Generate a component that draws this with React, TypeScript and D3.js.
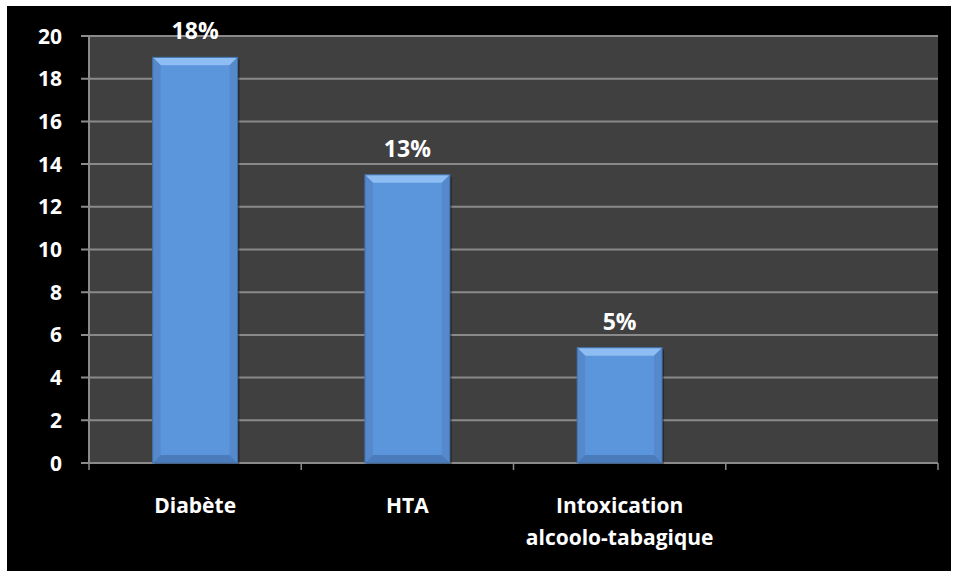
import React from "react";
import * as d3 from "d3";

const categories = ["Diabète", "HTA", "Intoxication\nalcoolo-tabagique", ""];
const values = [19, 13.5, 5.4, null];
const dataLabels = ["18%", "13%", "5%", ""];
const yTicks = [0, 2, 4, 6, 8, 10, 12, 14, 16, 18, 20];

const W = 955, H = 577;
const plot = { left: 89, right: 938, top: 36, bottom: 463 };
const FONT = "'Open Sans', sans-serif";

export default function App() {
  const x = d3.scaleBand<string>().domain(categories.map((c, i) => String(i))).range([plot.left, plot.right]).paddingInner(0.6).paddingOuter(0.3);
  const xSlot = d3.scaleBand<string>().domain(categories.map((c, i) => String(i))).range([plot.left, plot.right]);
  const y = d3.scaleLinear().domain([0, 20]).range([plot.bottom, plot.top]);
  const bev = 8;
  return (
    <svg width={W} height={H} style={{ position: "absolute", left: 0, top: 0 }}>
      <rect x={0} y={0} width={W} height={H} fill="#fff" />
      <rect x={7} y={6} width={944} height={565} fill="#000" />
      <rect x={plot.left} y={plot.top} width={plot.right - plot.left} height={plot.bottom - plot.top} fill="#404040" />
      {yTicks.map((t) => (
        <g key={t}>
          <line x1={plot.left - 8} x2={plot.right} y1={y(t)} y2={y(t)} stroke="#8a8a8a" strokeWidth={2} />
          <text x={62} y={y(t)} dy="0.36em" textAnchor="end" fill="#fff" fontFamily={FONT} fontWeight="bold" fontSize={21}>{t}</text>
        </g>
      ))}
      <line x1={plot.left} x2={plot.left} y1={plot.top} y2={plot.bottom} stroke="#8a8a8a" strokeWidth={2} />
      {categories.map((c, i) => {
        const xs = xSlot(String(i))!;
        return <line key={"t" + i} x1={xs} x2={xs} y1={plot.bottom} y2={plot.bottom + 7} stroke="#8a8a8a" strokeWidth={1.5} />;
      })}
      <line x1={plot.right} x2={plot.right} y1={plot.bottom} y2={plot.bottom + 7} stroke="#8a8a8a" strokeWidth={1.5} />
      {categories.map((c, i) => {
        const v = values[i];
        if (v == null) return null;
        const x0 = x(String(i))!;
        const w = x.bandwidth();
        const y0 = y(v);
        const y1 = y(0);
        return (
          <g key={"b" + i}>
            <rect x={x0 + 2} y={y0 + 2} width={w} height={y1 - y0} fill="#000" opacity={0.35} />
            <rect x={x0} y={y0} width={w} height={y1 - y0} fill="#5b95dc" />
            <polygon points={`${x0},${y0} ${x0 + w},${y0} ${x0 + w - bev},${y0 + bev} ${x0 + bev},${y0 + bev}`} fill="#8dbdf2" />
            <polygon points={`${x0},${y0} ${x0 + bev},${y0 + bev} ${x0 + bev},${y1 - bev} ${x0},${y1}`} fill="#5589cc" />
            <polygon points={`${x0 + w},${y0} ${x0 + w - bev},${y0 + bev} ${x0 + w - bev},${y1 - bev} ${x0 + w},${y1}`} fill="#5589cc" />
            <polygon points={`${x0},${y1} ${x0 + bev},${y1 - bev} ${x0 + w - bev},${y1 - bev} ${x0 + w},${y1}`} fill="#4a7cbb" />
            <rect x={x0} y={y0} width={w} height={y1 - y0} fill="none" stroke="#3f6fa8" strokeWidth={1} />
            <text x={x0 + w / 2} y={y0 - 18} textAnchor="middle" fill="#fff" fontFamily={FONT} fontWeight="bold" fontSize={23}>{dataLabels[i]}</text>
          </g>
        );
      })}
      {categories.map((c, i) => {
        const cx = xSlot(String(i))! + xSlot.bandwidth() / 2;
        const lines = c.split("\n");
        return (
          <text key={"c" + i} textAnchor="middle" fill="#fff" fontFamily={FONT} fontWeight="bold" fontSize={21}>
            {lines.map((l, k) => (
              <tspan key={k} x={cx} y={513 + k * 32}>{l}</tspan>
            ))}
          </text>
        );
      })}
    </svg>
  );
}
